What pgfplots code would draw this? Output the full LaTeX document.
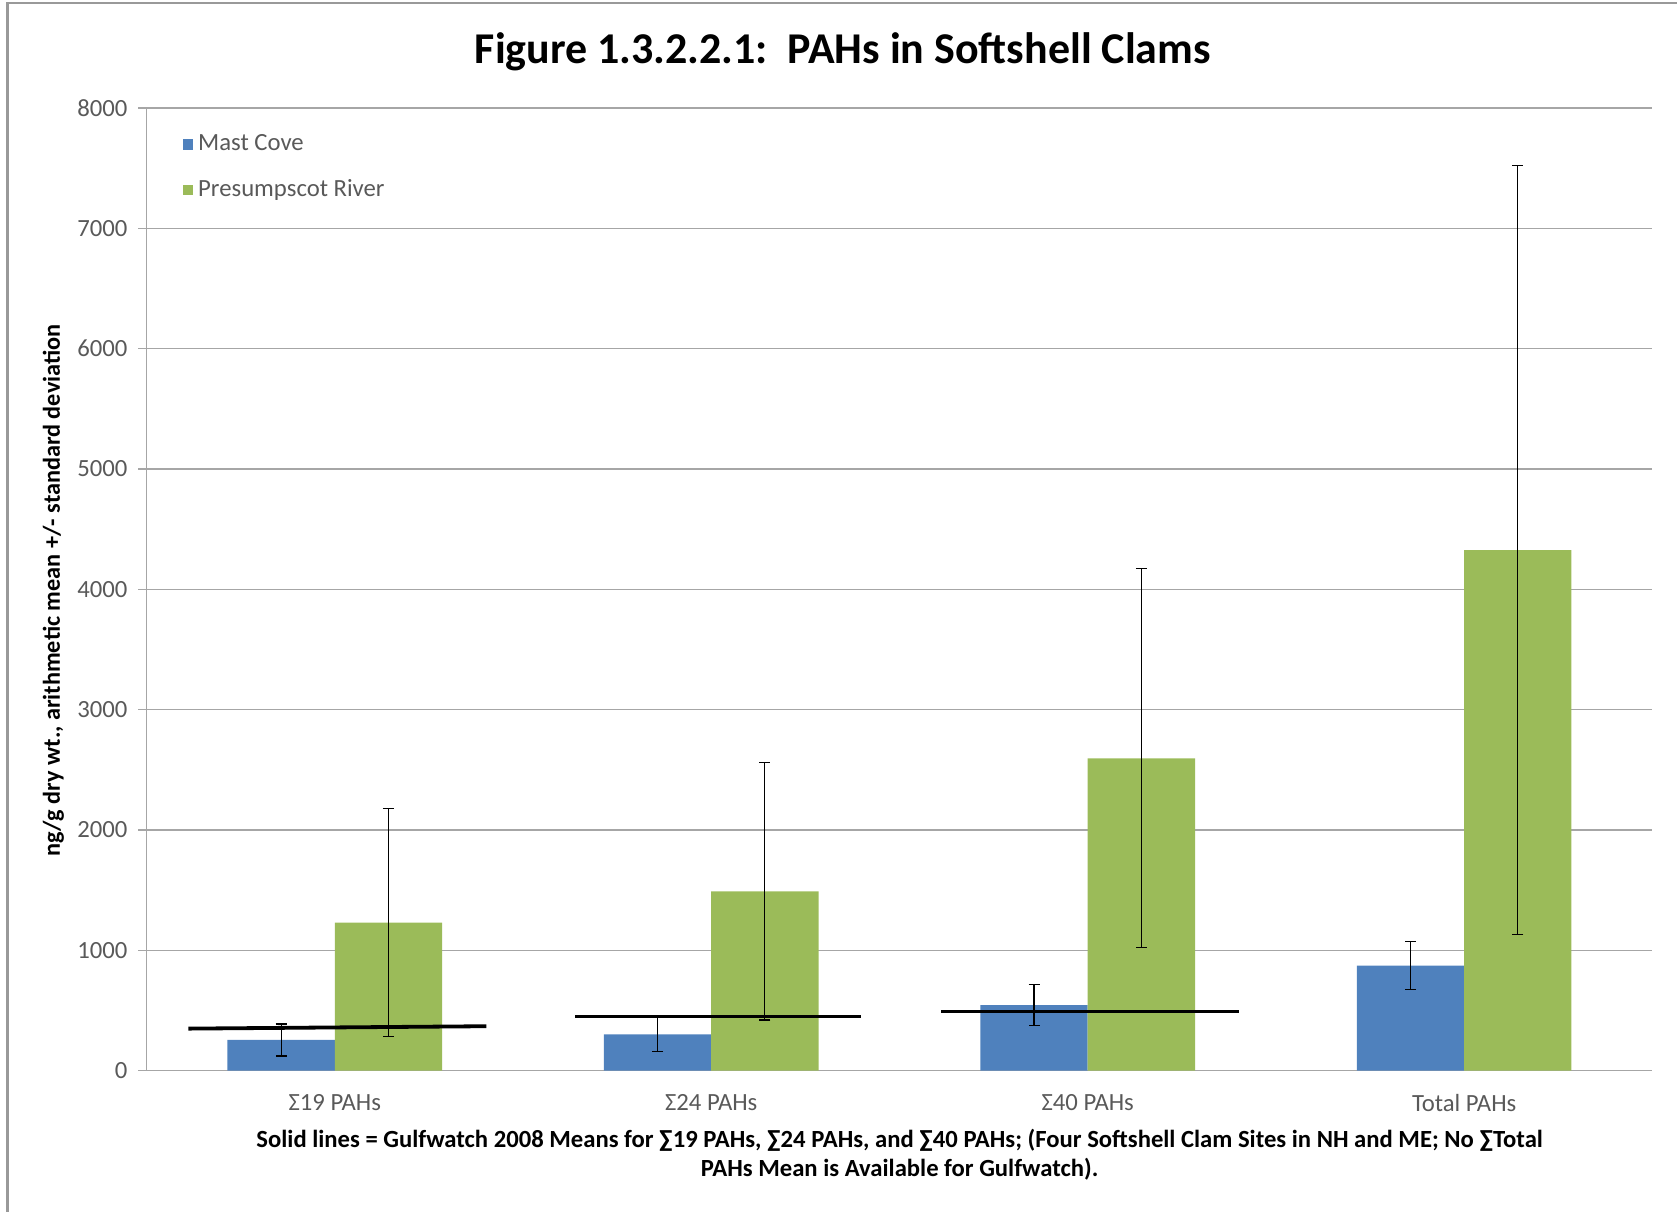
\documentclass[border=0pt]{standalone}
\usepackage{fontspec}
\setmainfont{Carlito}
\usepackage{pgfplots}
\pgfplotsset{compat=1.18}
\usepackage{pgfplotstable}
\definecolor{mastblue}{HTML}{4F81BD}
\definecolor{presgreen}{HTML}{9BBB59}
\definecolor{tickgray}{HTML}{595959}
\definecolor{gridgray}{HTML}{A6A6A6}
\pgfplotstableread{
x xm xp mast mastsd pres pressd
0 -0.1425 0.1425 255 133 1231 948
1 0.8575 1.1425 302 140 1490 1070
2 1.8575 2.1425 545 170 2595 1575
3 2.8575 3.1425 873 197 4325 3195
}\datatable
\begin{document}
\begin{tikzpicture}
\useasboundingbox (0,0) rectangle (705.6pt,-509.85pt);
\draw[gray!80, line width=0.9pt] (3.15pt,-509.85pt) -- (3.15pt,-1.35pt) -- (705.6pt,-1.35pt);
\begin{axis}[
  at={(61.65pt,-450.45pt)}, anchor=south west,
  scale only axis, width=633.6pt, height=405pt,
  xmin=-0.5, xmax=3.5, ymin=0, ymax=8000,
  axis x line*=bottom, axis y line*=left,
  axis line style={gridgray, line width=0.6pt},
  ytick={0,1000,...,8000},
  ymajorgrids, grid style={gridgray, line width=0.6pt},
  tick align=outside, major tick length=3.5pt,
  tick style={gridgray, line width=0.6pt},
  xtick={0,1,2,3},
  xticklabels={Σ19 PAHs, Σ24 PAHs, Σ40 PAHs, Total PAHs},
  x tick style={draw=none},
  extra x ticks={-0.5,0.5,1.5,2.5,3.5},
  extra x tick labels={},
  extra x tick style={grid=none, tick style={draw=gridgray, line width=0.6pt}, major tick length=4.5pt},
  /pgf/number format/assume math mode=true,
  /pgf/number format/1000 sep={},
  ticklabel style={font=\fontsize{10.4}{12}\selectfont, text=tickgray},
  yticklabel style={xshift=-1pt},
  xticklabel style={yshift=-3pt},
  bar width=0.285,
  legend style={at={(axis description cs:0.022,0.98)}, anchor=north west, draw=none, fill=none,
    font=\fontsize{10.4}{12}\selectfont, text=tickgray, row sep=6.6pt, inner sep=1pt},
  legend cell align=left,
  legend image code/.code={\fill[#1] (0pt,-2.3pt) rectangle (4.6pt,2.3pt);},
]
\addplot[ybar, bar shift=0, fill=mastblue, draw=none,
  error bars/.cd, y dir=both, y explicit,
  error bar style={black, line width=0.5pt},
  error mark options={rotate=90, mark size=2.3pt, black, line width=0.5pt}]
  table[x=xm, y=mast, y error=mastsd] {\datatable};
\addlegendentry{Mast Cove}
\addplot[ybar, bar shift=0, fill=presgreen, draw=none,
  error bars/.cd, y dir=both, y explicit,
  error bar style={black, line width=0.5pt},
  error mark options={rotate=90, mark size=2.3pt, black, line width=0.5pt}]
  table[x=xp, y=pres, y error=pressd] {\datatable};
\addlegendentry{Presumpscot River}
\addplot[black, line width=1.6pt, forget plot] coordinates {(-0.389,349) (0.403,369)};
\addplot[black, line width=1.6pt, forget plot] coordinates {(0.639,450) (1.398,450)};
\addplot[black, line width=1.6pt, forget plot] coordinates {(1.611,492) (2.401,492)};
\end{axis}
\node[font=\bfseries\fontsize{18.5}{22}\selectfont] at (354.6pt,-21.6pt) {Figure 1.3.2.2.1:\ \ PAHs in Softshell Clams};
\node[font=\bfseries\fontsize{10.2}{12}\selectfont, rotate=90] at (22.5pt,-248.4pt) {ng/g dry wt., arithmetic mean +/- standard deviation};
\node[font=\bfseries\fontsize{10.38}{12}\selectfont] at (378.5pt,-479.7pt) {Solid lines = Gulfwatch 2008 Means for ∑19 PAHs, ∑24 PAHs, and ∑40 PAHs; (Four Softshell Clam Sites in NH and ME; No ∑Total};
\node[font=\bfseries\fontsize{10.38}{12}\selectfont] at (378.5pt,-491.85pt) {PAHs Mean is Available for Gulfwatch).};
\end{tikzpicture}
\end{document}
